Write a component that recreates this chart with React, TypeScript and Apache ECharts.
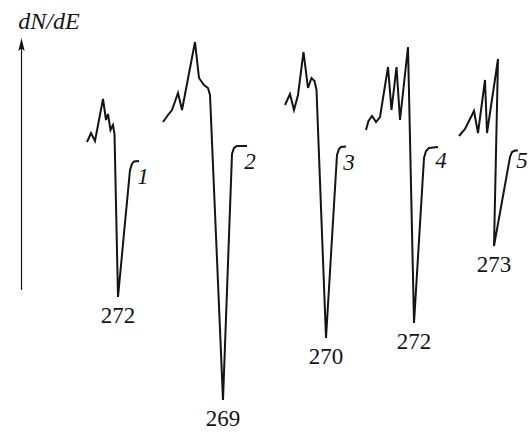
import React, { useEffect, useRef } from "react";
import * as echarts from "echarts";

// Spectra: [energy position, dN/dE position] (arbitrary units, y grows downward)
const spectrum1: [number, number][] = [
  [87, 142], [91, 133], [95, 141], [103, 99], [106, 120], [108, 114], [110.5, 130],
  [113, 125], [114.5, 134], [118, 297], [130, 170], [132, 164], [134, 161.5], [139, 161],
];
const spectrum2: [number, number][] = [
  [163, 122], [168, 115], [172, 110], [178, 93], [182, 110], [195, 42], [199, 78],
  [204, 85], [208, 88], [210, 95], [223, 400], [232, 154], [234, 148], [237, 146], [247, 146],
];
const spectrum3: [number, number][] = [
  [285, 105], [290, 94], [294, 110], [298, 95], [303.5, 52], [308, 88], [311.5, 78],
  [314.5, 81], [316.5, 90], [326, 338], [337, 155], [339, 149], [341, 147], [346, 146.5],
];
const spectrum4: [number, number][] = [
  [366, 130], [368.5, 121], [372, 116], [376, 122], [380, 117], [388, 67], [391.5, 110],
  [396.5, 67], [400, 120], [408, 47], [414, 323], [424, 158], [426, 151], [429, 148], [438, 147],
];
const spectrum5: [number, number][] = [
  [459, 136], [465, 129], [474, 111], [478, 133], [485, 80], [487, 133], [498, 59],
  [494, 246], [510, 157], [512, 152], [515, 150.5], [518, 150.5],
];

const spectra = [spectrum1, spectrum2, spectrum3, spectrum4, spectrum5];
const minimumEnergies = ["272", "269", "270", "272", "273"];
const curveNumbers = ["1", "2", "3", "4", "5"];
const axisTitle = "dN/dE";

const FONT = "'Liberation Serif', 'Times New Roman', serif";
const INK = "#141414";
const numberOffsets: [number, number][] = [[4, 0], [3, 0], [3, 0], [3, -2], [4, -6]];

export default function App() {
  const ref = useRef<HTMLDivElement>(null);

  useEffect(() => {
    if (!ref.current) return;
    const chart = echarts.init(ref.current, null, { renderer: "svg" });

    const series = spectra.map((pts, i) => {
      let minIdx = 0;
      pts.forEach((p, j) => {
        if (p[1] > pts[minIdx][1]) minIdx = j;
      });
      const last = pts.length - 1;
      return {
        type: "line",
        data: pts.map((p, j) => {
          const item: any = { value: p };
          if (j === minIdx) {
            item.label = {
              show: true,
              position: "bottom",
              distance: 7,
              formatter: minimumEnergies[i],
              fontFamily: FONT,
              fontSize: 23,
              color: INK,
            };
          } else if (j === last) {
            item.label = {
              show: true,
              position: "bottom",
              distance: 4,
              offset: numberOffsets[i],
              formatter: curveNumbers[i],
              fontFamily: FONT,
              fontStyle: "italic",
              fontSize: 23,
              color: INK,
            };
          }
          return item;
        }),
        symbol: "circle",
        symbolSize: 0,
        showSymbol: true,
        lineStyle: { color: INK, width: 2, join: "miter" },
        itemStyle: { color: INK },
        silent: true,
      };
    });

    chart.setOption({
      animation: false,
      backgroundColor: "#ffffff",
      grid: { left: 0, top: 0, right: 0, bottom: 0 },
      xAxis: { type: "value", min: 0, max: 529, show: false },
      yAxis: { type: "value", min: 0, max: 432, inverse: true, show: false },
      series,
      graphic: [
        {
          type: "line",
          shape: { x1: 21.5, y1: 290, x2: 21.5, y2: 46 },
          style: { stroke: INK, lineWidth: 1.2 },
        },
        {
          type: "polygon",
          shape: { points: [[21.5, 38], [18.3, 51], [21.5, 48.5], [24.7, 51]] },
          style: { fill: INK },
        },
        {
          type: "text",
          x: 49,
          y: 21,
          style: {
            text: axisTitle,
            font: `italic 24px ${FONT}`,
            fill: INK,
            align: "center",
            verticalAlign: "middle",
          },
        },
      ],
    });

    return () => chart.dispose();
  }, []);

  return (
    <div
      ref={ref}
      style={{ position: "absolute", left: 0, top: 0, width: 529, height: 432 }}
    />
  );
}
